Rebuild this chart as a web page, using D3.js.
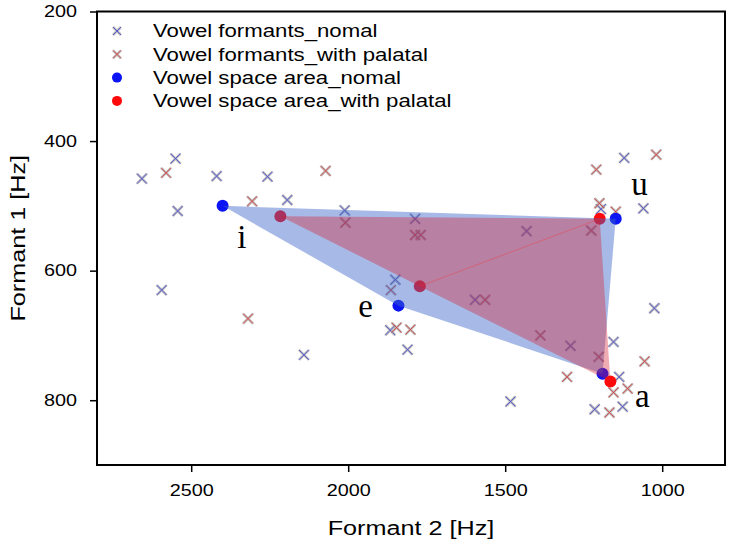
<!DOCTYPE html>
<html>
<head>
<meta charset="utf-8">
<script src="https://cdn.jsdelivr.net/npm/d3@7"></script>
<style>
  body { margin: 0; background: #fff; }
  text { font-family: "Liberation Sans", Arial, sans-serif; }
</style>
</head>
<body>
<div id="chart"></div>
<script>
// formant measurements (F2, F1 in Hz)
const normalF2 = [2657, 2550, 2419, 2257, 2543, 2194, 2011, 1121, 1060, 1787, 1432, 2594, 2141, 1850,
  1866, 1811, 1596, 1292, 1155, 1137, 1025, 1483, 1215, 1126, 1195];
const normalF1 = [458, 427, 454, 455, 508, 491, 507, 426, 504, 520, 539, 630, 730, 614,
  692, 722, 645, 716, 710, 764, 658, 802, 814, 810, 505];

const palatalF2 = [2580, 2072, 2306, 2009, 1210, 1019, 1148, 1200, 1787, 1769, 1226, 2319, 1846, 1802,
  1864, 1564, 1388, 1202, 1303, 1110, 1155, 1056, 1168];
const palatalF1 = [449, 446, 493, 526, 444, 421, 509, 496, 545, 545, 538, 674, 688, 691,
  630, 645, 700, 733, 764, 782, 788, 740, 819];

// vowel space corners, order i, u, a, e
const vowels = ["i", "u", "a", "e"];
const normalAreaF2 = [2400, 1148, 1190, 1840];
const normalAreaF1 = [500, 520, 759, 654];
const palatalAreaF2 = [2216, 1199, 1165, 1772];
const palatalAreaF1 = [516, 520, 771, 624];

// where the vowel letters sit (Hz)
const labelF2 = [2339, 1072, 1063, 1945];
const labelF1 = [565, 484, 810, 672];

const legendLabels = ["Vowel formants_nomal", "Vowel formants_with palatal",
  "Vowel space area_nomal", "Vowel space area_with palatal"];

const xTicks = [2500, 2000, 1500, 1000];
const yTicks = [200, 400, 600, 800];

(function () {
  const W = 732, H = 554;
  const m = { left: 97, right: 725, top: 11.5, bottom: 465 };
  const sx = 1.2; // the source text looks a bit wide, stretch it horizontally

  const x = d3.scaleLinear().domain([2800, 800]).range([m.left, m.right]);
  const y = d3.scaleLinear().domain([200, 900]).range([m.top, m.bottom]);

  const svg = d3.select("#chart").append("svg")
    .attr("width", W).attr("height", H);

  // crosses: grey halo with thin coloured stroke
  function drawCross(g, cx, cy, color, s) {
    const d = `M${cx - s},${cy - s}L${cx + s},${cy + s}M${cx - s},${cy + s}L${cx + s},${cy - s}`;
    g.append("path").attr("d", d).attr("stroke", "#a0a0a0").attr("stroke-width", 2.6)
      .attr("stroke-opacity", 0.7).attr("fill", "none");
    g.append("path").attr("d", d).attr("stroke", color).attr("stroke-width", 1)
      .attr("stroke-opacity", 0.75).attr("fill", "none");
  }

  // text placed at (px,py) and stretched in x
  function wideText(g, px, py, str, size, anchor) {
    return g.append("text")
      .attr("transform", `translate(${px},${py}) scale(${sx},1)`)
      .attr("text-anchor", anchor || "start")
      .style("font-size", size + "px")
      .text(str);
  }

  const blue = "#3b3bd8", red = "#e02828";

  const crosses = svg.append("g");
  normalF2.forEach((f2, i) => drawCross(crosses, x(f2), y(normalF1[i]), blue, 5));
  palatalF2.forEach((f2, i) => drawCross(crosses, x(f2), y(palatalF1[i]), red, 5));

  // corner dots
  svg.append("g").selectAll("circle")
    .data(vowels).join("circle")
    .attr("cx", (d, i) => x(normalAreaF2[i]))
    .attr("cy", (d, i) => y(normalAreaF1[i]))
    .attr("r", 6).attr("fill", "#0a14f5");

  svg.append("g").selectAll("circle")
    .data(vowels).join("circle")
    .attr("cx", (d, i) => x(palatalAreaF2[i]))
    .attr("cy", (d, i) => y(palatalAreaF1[i]))
    .attr("r", 6).attr("fill", "#ff0a0a");

  // vowel space polygons
  const line = d3.line().curve(d3.curveLinearClosed);
  svg.append("path")
    .attr("d", line(vowels.map((v, i) => [x(normalAreaF2[i]), y(normalAreaF1[i])])))
    .attr("fill", "rgb(60,100,200)").attr("fill-opacity", 0.45);

  svg.append("path")
    .attr("d", line(vowels.map((v, i) => [x(palatalAreaF2[i]), y(palatalAreaF1[i])])))
    .attr("fill", "rgb(215,30,50)").attr("fill-opacity", 0.37);

  // faint seam from e to u
  svg.append("line")
    .attr("x1", x(palatalAreaF2[3])).attr("y1", y(palatalAreaF1[3]))
    .attr("x2", x(palatalAreaF2[1])).attr("y2", y(palatalAreaF1[1]))
    .attr("stroke", "#ff3030").attr("stroke-opacity", 0.45).attr("stroke-width", 0.8);

  // vowel letters
  svg.append("g").selectAll("text")
    .data(vowels).join("text")
    .attr("x", (d, i) => x(labelF2[i]))
    .attr("y", (d, i) => y(labelF1[i]))
    .attr("text-anchor", "middle")
    .style("font-family", "'Liberation Serif', serif")
    .style("font-size", "33px")
    .text(d => d);

  // frame
  svg.append("rect")
    .attr("x", m.left).attr("y", m.top)
    .attr("width", m.right - m.left).attr("height", m.bottom - m.top)
    .attr("fill", "none").attr("stroke", "#000").attr("stroke-width", 2);

  // axes
  const xAxis = svg.append("g")
    .attr("transform", `translate(0,${m.bottom})`)
    .call(d3.axisBottom(x).tickValues(xTicks).tickFormat(d3.format("d")).tickSize(7).tickPadding(12));
  const yAxis = svg.append("g")
    .attr("transform", `translate(${m.left},0)`)
    .call(d3.axisLeft(y).tickValues(yTicks).tickFormat(d3.format("d")).tickSize(7).tickPadding(12));

  [xAxis, yAxis].forEach(a => {
    a.select(".domain").remove();
    a.selectAll("line").attr("stroke", "#000").attr("stroke-width", 1.5);
    a.selectAll("text").style("font-family", "'Liberation Sans', Arial, sans-serif")
      .style("font-size", "16.5px").attr("fill", "#000")
      .attr("transform", `scale(${sx},1)`);
  });
  yAxis.selectAll("text").attr("x", -20 / sx);

  wideText(svg, (m.left + m.right) / 2, 535, "Formant 2 [Hz]", 21, "middle");

  svg.append("text")
    .attr("transform", `translate(25,${(m.top + m.bottom) / 2}) rotate(-90) scale(${sx},1)`)
    .attr("text-anchor", "middle").style("font-size", "21px")
    .text("Formant 1 [Hz]");

  // legend
  const legend = svg.append("g");
  legendLabels.forEach((lab, i) => {
    const ly = 31 + i * 23.3;
    if (i < 2) {
      drawCross(legend, 117, ly, i === 0 ? blue : red, 4);
    } else {
      legend.append("circle").attr("cx", 117).attr("cy", ly).attr("r", 5)
        .attr("fill", i === 2 ? "#0a14f5" : "#ff0a0a");
    }
    wideText(legend, 153, ly, lab, 18.5).attr("dy", "0.35em");
  });
})();
</script>
</body>
</html>
